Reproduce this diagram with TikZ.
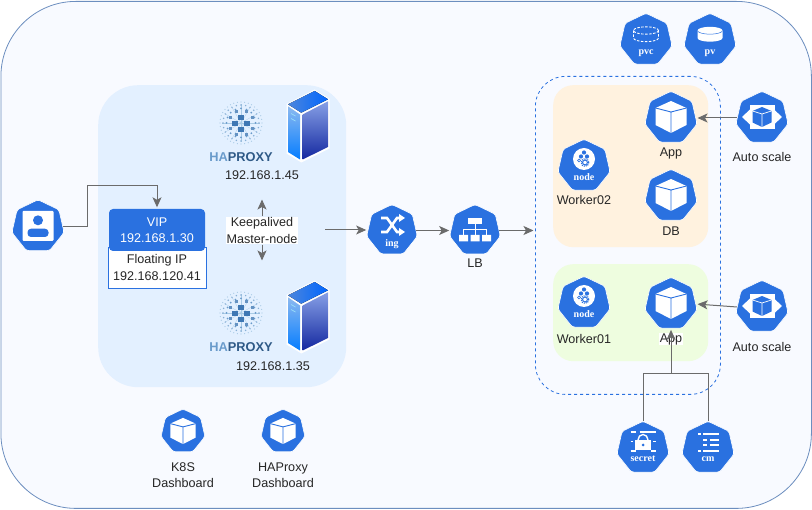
\documentclass[tikz,border=0pt]{standalone}
\usepackage{fontspec}
\setmainfont{Liberation Sans}
\newfontfamily\iconfont{Liberation Serif}
\usetikzlibrary{arrows.meta,shapes.geometric}
\definecolor{kblue}{HTML}{2A71E0}
\definecolor{flowgray}{HTML}{6B6B6B}
\definecolor{hadark}{HTML}{3F78B4}
\definecolor{hamid}{HTML}{6A9BCB}
\definecolor{halight}{HTML}{A9CBE6}
\definecolor{outerfill}{HTML}{F8FAFF}
\definecolor{outerline}{HTML}{6C8EBF}
\definecolor{hafill}{HTML}{E3F0FF}
\definecolor{orangefill}{HTML}{FFF2DF}
\definecolor{greenfill}{HTML}{EEFDDF}
\tikzset{
  txt/.style={text=black!85, font=\fontsize{12.6}{16.5}\selectfont, align=center, inner sep=1pt},
  hatxt/.style={txt, font=\bfseries\fontsize{12.8}{15}\selectfont},
  ktext/.style={text=white, font=\iconfont\bfseries\fontsize{10}{12}\selectfont, inner sep=0pt},
  hepta/.style={regular polygon, regular polygon sides=7, fill=kblue, draw=white, line width=.6pt, rounded corners=2.5pt, inner sep=0pt, minimum size=53.5pt},
  smallhepta/.style={hepta, minimum size=45pt},
  panel/.style={rounded corners=#1, anchor=north west, inner sep=0pt},
  flow/.style={draw=flowgray, line width=1pt, -{Stealth[length=10pt,width=9pt,inset=2.5pt]}, shorten >=1.5pt},
  feed/.style={draw=flowgray, line width=1pt},
  cubeicon/.pic={
    \fill[white] (0,-16) -- (15.5,-9) -- (15.5,8) -- (0,16) -- (-15.5,8) -- (-15.5,-9) -- cycle;
    \draw[kblue, line width=.9pt] (-15.5,-9) -- (0,-5) -- (15.5,-9) (0,-5) -- (0,16);
  },
  scaleicon/.pic={
    \fill[white] (-12.5,-12) rectangle (12.5,12);
    \fill[white] (-12,-7.5) -- (-20,0) -- (-12,7.5) -- cycle (12,-7.5) -- (20,0) -- (12,7.5) -- cycle;
    \fill[kblue] (0,-10) -- (9.5,-6) -- (9.5,5.5) -- (0,10) -- (-9.5,5.5) -- (-9.5,-6) -- cycle;
    \draw[white, line width=.7pt] (-9.5,-6) -- (0,-3) -- (9.5,-6) (0,-3) -- (0,10);
  },
  usericon/.pic={
    \fill[white, rounded corners=1pt] (-15.5,-15) rectangle (15.5,15);
    \fill[kblue] (0,-5.7) circle [radius=5];
    \fill[kblue, rounded corners=3.5pt] (-10.5,11) -- (-10.5,2.7) -- (10.5,2.7) -- (10.5,11) -- cycle;
  },
  ingicon/.pic={
    \draw[white, line width=2.6pt] (-11,-11) -- (-5,-11) -- (5,3) -- (8,3) (-11,3) -- (-5,3) -- (5,-11) -- (8,-11);
    \fill[white] (7,-15) -- (13,-11) -- (7,-7) -- cycle (7,-1) -- (13,3) -- (7,7) -- cycle;
  },
  lbicon/.pic={
    \draw[white, line width=.9pt] (0,-6) -- (0,0.5) (-11.5,7) -- (-11.5,0.5) -- (11.5,0.5) -- (11.5,7) (0,0.5) -- (0,7);
    \fill[white] (-7,-11) rectangle (7,-5);
    \fill[white] (-16,6) rectangle (-7,12.5) (-4.5,6) rectangle (4.5,12.5) (7,6) rectangle (16,12.5);
  },
  pvcicon/.pic={
    \draw[white, line width=.9pt, dash pattern=on 2.5pt off 1.5pt] (-12.5,-8.5) -- (-12.5,-1) arc (180:0:12.5 and 3.7) -- (12.5,-8.5);
    \draw[white, line width=.9pt, dash pattern=on 2.5pt off 1.5pt] (0,-8.5) ellipse [x radius=12.5, y radius=3.7];
  },
  pvicon/.pic={
    \fill[white] (-12.5,-8.5) -- (-12.5,-1) arc (180:0:12.5 and 3.7) -- (12.5,-8.5) -- cycle;
    \fill[white] (0,-8.5) ellipse [x radius=12.5, y radius=3.7];
    \draw[kblue, line width=.5pt] (-12.5,-8.5) arc (180:0:12.5 and 3.7);
  },
  nodeicon/.pic={
    \fill[white] (0,-6) circle [radius=11];
    \fill[kblue] (0,-12.5) circle [radius=2.1] (-3,-8.5) circle [radius=2.1] (3,-8.5) circle [radius=2.1];
    \draw[kblue, line width=1pt] (1,-2.5) circle [radius=2.4];
    \draw[kblue, line width=1.2pt, dash pattern=on 1pt off 1pt] (1,-2.5) circle [radius=3.8];
    \draw[kblue, line width=.7pt] (-5,-4.5) circle [radius=1.5];
  },
  secreticon/.pic={
    \draw[white, line width=1.2pt] (-12.5,-15) -- (-7,-15) (-3.5,-15) -- (12.5,-15) (-12.5,4) -- (-7,4) (8,4) -- (12.5,4) (-12.5,-5.5) -- (-10,-5.5) (10,-5.5) -- (12.5,-5.5);
    \fill[white] (-8,-7) rectangle (8,3.5);
    \draw[white, line width=1.4pt] (-5,-7) arc (180:360:5 and 5.5);
    \fill[kblue] (0,-2) circle [radius=1.5];
  },
  cmicon/.pic={
    \draw[white, line width=1.2pt] (-10,-13) -- (-7.5,-13) (-5,-13) -- (11,-13) (-5,-7) -- (-1.5,-7) (1.5,-7) -- (11,-7) (-5,-2) -- (-1.5,-2) (1.5,-2) -- (11,-2) (-10,4) -- (-7.5,4) (-5,4) -- (11,4);
  },
  halogo/.pic={
    \foreach \a in {0,30,...,330} \draw[halight, line width=.25pt] (0,0) -- (\a:19);
    \foreach \a in {0,22.5,...,337.5} \fill[hamid] (\a:14.5) circle [radius=1];
    \foreach \a in {0,15,...,345} \fill[hamid!80!white] (\a:18) circle [radius=.8];
    \foreach \a in {0,10,...,350} \fill[halight] (\a:21) circle [radius=.6];
    \foreach \x/\y in {0/-5.5,-6/.5,6/.5,0/6.5} \fill[hadark] (\x-2.8,\y-2.8) rectangle (\x+2.8,\y+2.8);
    \foreach \x/\y in {-11/-5,11/-5,-11/5.5,11/5.5,-5/-11,5/-11,-5/11.5,5/11.5} \fill[hadark!80!white] (\x-1.5,\y-1.5) rectangle (\x+1.5,\y+1.5);
  },
  servericon/.pic={
    \fill[white] (6.7,-36.5) -- (21.5,-27) -- (21.5,22.5) -- (-6.7,36.5) -- (-21.5,27.5) -- (-21.5,-22) -- cycle;
    \fill[left color=blue!60!cyan!80!black!70!white, right color=cyan!40!blue] (6.7,-35) -- (20,-26.7) -- (-6.7,-13.3) -- (-20,-21.7) -- cycle;
    \shade[top color={rgb,255:red,140;green,185;blue,240}, bottom color={rgb,255:red,5;green,125;blue,255}] (-20,-19.7) -- (-8,-11.5) -- (-8,33.5) -- (-20,26) -- cycle;
    \shade[top color={rgb,255:red,135;green,160;blue,230}, bottom color={rgb,255:red,20;green,40;blue,160}] (-5.4,-11.5) -- (20,-24.7) -- (20,21) -- (-5.4,33.5) -- cycle;
    \draw[white!60!cyan, line width=.7pt] (-17,-12.5) -- (-12.5,-10) (-17,-7.5) -- (-12.5,-5);
  },
}
\begin{document}
\begin{tikzpicture}[x=1pt, y=-1pt]
  \useasboundingbox (0,0) rectangle (812,510);

  \node[panel=75pt, fill=outerfill, draw=outerline, line width=.8pt, minimum width=810.5pt, minimum height=507pt] (outer) at (.5,1) {};
  \node[panel=40pt, fill=hafill, minimum width=248pt, minimum height=302pt] (habox) at (98,85) {};
  \node[panel=30pt, draw=kblue, line width=.8pt, dashed, minimum width=185pt, minimum height=318pt] (cluster) at (535,76) {};
  \node[panel=20pt, fill=orangefill, minimum width=155pt, minimum height=162pt] (worker2box) at (553,85) {};
  \node[panel=20pt, fill=greenfill, minimum width=155pt, minimum height=97pt] (worker1box) at (553,264) {};

  \node[hepta] (user) at (38,226.5) {};
  \pic at (38,226) {usericon};

  \node[draw=kblue, fill=white, minimum width=98pt, minimum height=41pt, line width=.8pt, txt, inner sep=0pt, text depth=-9pt] (floatip) at (157,267.5) {Floating IP\\192.168.120.41};
  \node[fill=kblue, rounded corners=4pt, minimum width=96pt, minimum height=42pt, txt, text=white, inner sep=0pt] (vip) at (157,230) {VIP\\192.168.1.30};

  \pic at (241,123) {halogo};
  \node[hatxt] (haname1) at (241,157) {\textcolor{hamid}{HA}\textcolor{hadark!75!black}{PROXY}};
  \pic at (308,126) {servericon};
  \node[txt] (haip1) at (262,175) {192.168.1.45};
  \coordinate (haup) at (262,198);

  \pic at (241,313) {halogo};
  \node[hatxt] (haname2) at (241,347) {\textcolor{hamid}{HA}\textcolor{hadark!75!black}{PROXY}};
  \pic at (308,317) {servericon};
  \node[txt] (haip2) at (273,366) {192.168.1.35};
  \coordinate (hadown) at (262,262);

  \node[txt, fill=white] (keep) at (262,230.5) {Keepalived\\Master-node};
  \coordinate (hafree) at (325,230);

  \node[hepta, minimum size=52pt] (ing) at (392,230.5) {};
  \pic at (392,229) {ingicon};
  \node[ktext] (ingtext) at (392,244) {ing};
  \node[hepta, minimum size=52pt] (lb) at (475,230.5) {};
  \pic at (475,229) {lbicon};
  \node[txt] (lblabel) at (475,263) {LB};

  \node[hepta] (pvc) at (646,40) {};
  \pic at (646,39) {pvcicon};
  \node[ktext] (pvctext) at (646,53) {pvc};
  \node[hepta] (pv) at (710,40) {};
  \pic at (710,39) {pvicon};
  \node[ktext] (pvtext) at (710,53) {pv};

  \node[hepta] (app2) at (671,118) {};
  \pic at (671,117) {cubeicon};
  \node[txt] (app2label) at (671,153) {App};
  \node[hepta] (worker2) at (584,166) {};
  \pic at (584,165) {nodeicon};
  \node[ktext] (worker2text) at (584,177.5) {node};
  \node[txt] (worker2label) at (584,200) {Worker02};
  \node[hepta] (db) at (671,196) {};
  \pic at (671,195) {cubeicon};
  \node[txt] (dblabel) at (671,231) {DB};
  \node[hepta] (scale2) at (762,118) {};
  \pic at (762,117) {scaleicon};
  \node[txt] (scale2label) at (762,157) {Auto scale};

  \node[hepta] (worker1) at (584,303) {};
  \pic at (584,302) {nodeicon};
  \node[ktext] (worker1text) at (584,314.5) {node};
  \node[txt] (worker1label) at (584,339) {Worker01};
  \node[hepta] (app1) at (671,304) {};
  \pic at (671,303) {cubeicon};
  \node[txt, fill=white, inner sep=.5pt] (app1label) at (671,339) {App};
  \node[hepta] (scale1) at (762,307) {};
  \pic at (762,306) {scaleicon};
  \node[txt] (scale1label) at (762,347) {Auto scale};

  \node[hepta] (secret) at (643,448) {};
  \pic at (643,447) {secreticon};
  \node[ktext] (secrettext) at (643,459) {secret};
  \node[hepta] (cm) at (708,448) {};
  \pic at (708,447) {cmicon};
  \node[ktext] (cmtext) at (708,459) {cm};
  \coordinate (join) at (671,374);

  \node[smallhepta] (k8sdash) at (183,431.5) {};
  \pic[scale=.82] at (183,431) {cubeicon};
  \node[txt] (k8slabel) at (183,475) {K8S\\Dashboard};
  \node[smallhepta] (hadash) at (283,431.5) {};
  \pic[scale=.82] at (283,431) {cubeicon};
  \node[txt] (hadashlabel) at (283,475) {HAProxy\\Dashboard};

  \coordinate (userbend) at (87,186);
  \draw[flow] (user.east) -| (userbend) -| (vip.north);
  \draw[flow] (keep.north) -- (haup);
  \draw[flow] (keep.south) -- (hadown);
  \draw[flow] (hafree) -- (hafree -| ing.west);
  \draw[flow] (ing.east) -- (lb.west);
  \draw[flow] (lb.east) -- (lb.east -| cluster.west);
  \draw[flow] (scale2.west) -- (app2.east);
  \draw[flow] (scale1.west) -- (app1.east);
  \draw[feed] (secret.north) |- (join);
  \draw[feed] (cm.north) |- (join);
  \draw[flow] (join) -- (app1.south);
\end{tikzpicture}
\end{document}
